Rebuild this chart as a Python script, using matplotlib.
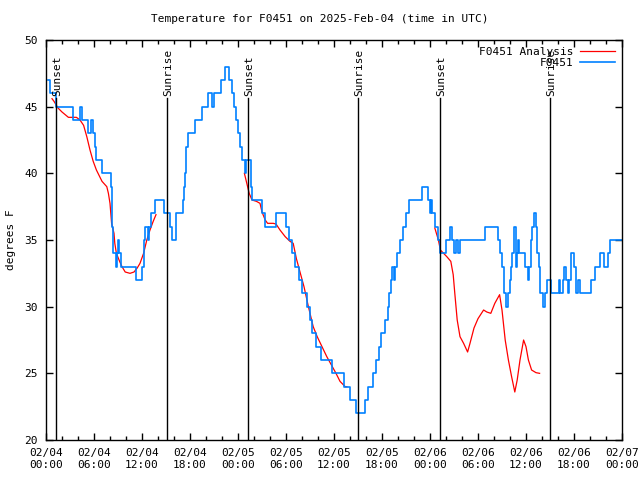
import numpy as np
import pandas as pd
import matplotlib
matplotlib.use('Agg')
import matplotlib.pyplot as plt
import matplotlib.dates as mdates

plt.rcParams['font.family'] = ['DejaVu Sans Mono']
plt.rcParams['font.size'] = 8

start = pd.Timestamp('2025-02-04 00:00')

# observed F0451 (hours since start, deg F) - stepped
obs_hr = [0.25, 0.5, 1.3, 3.4, 4.2, 4.45, 5.2, 5.6, 5.9, 6.1, 6.3, 6.95, 8.1, 8.2, 8.3, 8.4,
          8.7, 8.85, 8.95, 9.1, 9.4, 11.2, 12.05, 12.2, 12.3, 12.4, 12.7, 12.85, 13.1, 13.6,
          14.7, 15.5, 15.75, 16.2, 17.1, 17.25, 17.35, 17.45, 17.55, 17.7, 18.6, 19.5, 20.3,
          20.7, 21.0, 21.9, 22.4, 22.9, 23.3, 23.55, 23.75, 23.95, 24.2, 24.5, 24.9, 25.0,
          25.65, 25.75, 27.0, 27.4, 28.75, 30.0, 30.4, 30.8, 31.1, 31.6, 32.0, 32.6, 33.0,
          33.3, 33.8, 34.4, 35.7, 37.2, 38.0, 38.7, 39.9, 40.3, 40.9, 41.3, 41.6, 41.9, 42.4,
          42.7, 42.9, 43.1, 43.3, 43.5, 43.6, 43.9, 44.3, 44.6, 45.0, 45.4, 47.0, 47.8, 48.0,
          48.15, 48.3, 48.6, 49.0, 49.2, 50.0, 50.45, 50.7, 51.0, 51.3, 51.5, 51.75, 54.9,
          56.5, 56.8, 57.0, 57.2, 57.5, 57.8, 57.95, 58.1, 58.3, 58.45, 58.7, 58.8, 58.9,
          59.0, 59.1, 59.9, 60.2, 60.4, 60.6, 60.8, 60.95, 61.2, 61.4, 61.6, 61.8, 62.1,
          62.35, 62.6, 63.1, 64.1, 64.3, 64.6, 64.8, 65.0, 65.2, 65.4, 65.6, 66.0, 66.2,
          66.5, 66.8, 67.0, 68.1, 68.6, 69.3, 69.8, 70.2, 70.5, 72.0]
obs_val = [47, 46, 45, 44, 45, 44, 43, 44, 43, 42, 41, 40, 39, 38, 36, 34,
           33, 34, 35, 34, 33, 32, 33, 34, 35, 36, 35, 36, 37, 38,
           37, 36, 35, 37, 38, 39, 40, 41, 42, 43, 44, 45, 46,
           45, 46, 47, 48, 47, 46, 45, 44, 43, 42, 41, 40, 41,
           39, 38, 37, 36, 37, 36, 35, 34, 33, 32, 31, 30, 29,
           28, 27, 26, 25, 24, 23, 22, 23, 24, 25, 26, 27, 28, 29,
           30, 31, 32, 33, 32, 33, 34, 35, 36, 37, 38, 39, 38, 37,
           38, 37, 36, 35, 34, 35, 36, 35, 34, 35, 34, 35, 36,
           35, 34, 33, 31, 30, 31, 32, 33, 34, 36, 35, 33, 34,
           35, 34, 33, 32, 33, 35, 36, 37, 36, 34, 33, 31, 30,
           31, 32, 31, 32, 31, 32, 33, 32, 31, 32, 34, 33, 31,
           32, 31, 31, 32, 33, 34, 33, 34, 35, 35]

# analysis F0451 (gaps as nan)
ana_hr = [0.75, 1.0, 1.5, 2.0, 2.8, 3.8, 4.25, 4.7, 5.1, 5.5, 5.9, 6.3, 7.0, 7.6, 7.8, 8.0,
          8.2, 8.5, 8.6, 8.8, 9.2, 9.5, 9.9, 10.5, 11.0, 11.4, 11.75, 12.2, 12.6, 13.0, 13.4,
          13.75, 13.8,
          24.8, 25.1, 25.4, 25.75, 26.3, 26.75, 27.0, 27.4, 27.7, 28.4, 28.75, 29.25, 29.9,
          30.5, 30.9, 31.3, 31.75, 32.25, 32.8, 33.4, 33.9, 34.5, 35.1, 35.7, 36.25, 36.75,
          37.4, 37.6, 37.7,
          48.6, 49.05, 49.3, 49.7, 50.1, 50.6, 50.9, 51.1, 51.4, 51.75, 52.2, 52.7, 53.0,
          53.5, 54.0, 54.7, 55.1, 55.6, 56.1, 56.7, 57.0, 57.4, 57.8, 58.2, 58.6, 58.9,
          59.25, 59.7, 60.0, 60.3, 60.7, 61.25, 61.7]
ana_val = [45.6, 45.4, 44.9, 44.6, 44.2, 44.2, 44.0, 43.6, 42.75, 41.75, 40.9, 40.25, 39.4,
           39.0, 38.5, 37.75, 36.25, 35.5, 34.75, 34.0, 33.4, 33.0, 32.6, 32.5, 32.6, 32.9,
           33.25, 34.0, 35.0, 35.75, 36.4, 36.9, np.nan,
           40.0, 39.25, 38.5, 38.0, 37.9, 37.75, 37.1, 36.5, 36.25, 36.25, 36.2, 35.75, 35.25,
           34.9, 34.75, 33.6, 32.6, 31.5, 30.0, 28.5, 27.75, 27.0, 26.25, 25.6, 25.0, 24.4,
           24.0, 24.0, np.nan,
           35.9, 35.0, 34.25, 34.0, 33.75, 33.4, 32.4, 31.0, 29.0, 27.75, 27.25, 26.6, 27.25,
           28.4, 29.1, 29.75, 29.6, 29.5, 30.25, 30.9, 29.75, 27.5, 26.0, 24.75, 23.6, 24.5,
           26.0, 27.5, 27.0, 26.0, 25.25, 25.05, 25.0]

sun_hr = [1.25, 15.1, 25.25, 39.0, 49.25, 63.0]
sun_lbl = ['Sunset', 'Sunrise', 'Sunset', 'Sunrise', 'Sunset', 'Sunrise']

obs_t = start + pd.to_timedelta(obs_hr, unit='h')
ana_t = start + pd.to_timedelta(ana_hr, unit='h')
sun_t = start + pd.to_timedelta(sun_hr, unit='h')

fig = plt.figure(figsize=(6.4, 4.8), dpi=100)
ax = fig.add_axes([46/640, 40/480, 576/640, 400/480])

ax.plot(ana_t, ana_val, color='#ff0000', lw=0.9, label='F0451 Analysis')
ax.plot(obs_t, obs_val, color='#0080ff', lw=1.2, drawstyle='steps-post', label='F0451')

for t, lbl in zip(sun_t, sun_lbl):
    ax.plot([t, t], [20, 45.65], color='black', lw=1)
    ax.text(t + pd.Timedelta(minutes=12), 45.8, lbl, rotation=90, ha='center', va='bottom')

ax.set_xlim(start, start + pd.Timedelta(hours=72))
ax.set_ylim(20, 50)
ax.xaxis.set_major_locator(mdates.HourLocator(byhour=range(0, 24, 6)))
ax.xaxis.set_minor_locator(mdates.HourLocator(byhour=range(0, 24, 2)))
ax.xaxis.set_major_formatter(mdates.DateFormatter('%m/%d\n%H:%M'))
ax.set_yticks(range(20, 51, 5))
ax.tick_params(which='both', direction='in', top=True, right=True, width=1)
ax.tick_params(which='major', length=5, pad=6)
ax.tick_params(which='minor', length=3)
for s in ax.spines.values():
    s.set_linewidth(1)

fig.text(0.5, 0.96, 'Temperature for F0451 on 2025-Feb-04 (time in UTC)', ha='center', va='center')
fig.text(0.017, 0.5, 'degrees F', rotation=90, ha='center', va='center')

ax.legend(loc='upper right', frameon=False, markerfirst=False, handlelength=3.2,
          borderaxespad=0.2, labelspacing=0.15, handletextpad=0.6)

fig.savefig('out.png', dpi=100)
